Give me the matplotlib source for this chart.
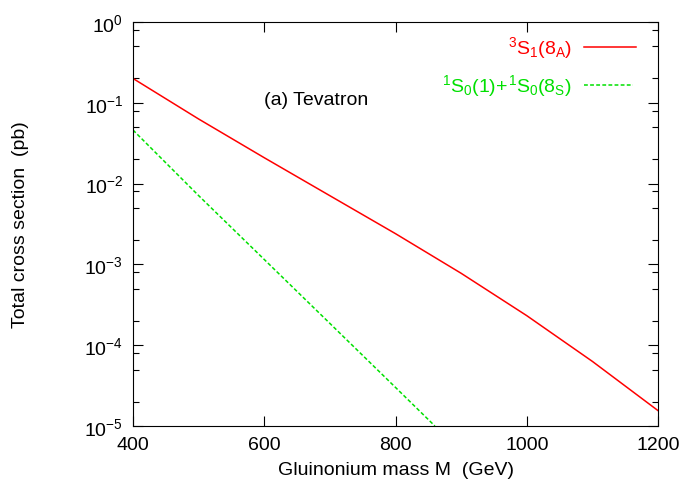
"""Gluinonium total cross section at the Tevatron."""
import matplotlib
matplotlib.use('Agg')
from matplotlib import pyplot as plt
from matplotlib.ticker import LogLocator, LogFormatterMathtext, NullFormatter, FixedLocator

# Values
mass_octet = [400, 500, 600, 700, 800, 900, 1000, 1100, 1200]
sigma_octet = [0.20, 0.063, 0.0209, 7.08e-3, 2.40e-3, 7.76e-4, 2.32e-4, 6.3e-5, 1.55e-5]

mass_singlet = [400, 500, 600, 700, 800, 860]
sigma_singlet = [0.046, 7.1e-3, 1.15e-3, 1.86e-4, 3.0e-5, 1.0e-5]

x_ticks = [400, 600, 800, 1000, 1200]

plt.rcParams['font.family'] = ['Liberation Sans', 'DejaVu Sans']
plt.rcParams['mathtext.fontset'] = 'custom'
plt.rcParams['mathtext.rm'] = 'Liberation Sans'
plt.rcParams['mathtext.it'] = 'Liberation Sans'
plt.rcParams['mathtext.bf'] = 'Liberation Sans'

red = '#ff0000'
green = '#00e000'

fig = plt.figure(figsize=(6.92, 4.85), dpi=100)
ax = fig.add_axes([0.1922, 0.1196, 0.7587, 0.8330])

ax.plot(mass_octet, sigma_octet, color=red, lw=1.1)
ax.plot(mass_singlet, sigma_singlet, color=green, lw=1.1, dashes=(2.5, 1.5))

ax.set_yscale('log')
ax.set_xlim(400, 1200)
ax.set_ylim(1e-5, 1)

ax.xaxis.set_major_locator(FixedLocator(x_ticks))
ax.yaxis.set_major_locator(LogLocator(base=10))
ax.yaxis.set_major_formatter(LogFormatterMathtext())
ax.yaxis.set_minor_locator(LogLocator(base=10, subs=(2, 5, 8)))
ax.yaxis.set_minor_formatter(NullFormatter())

ax.tick_params(axis='both', which='both', direction='in', top=True, right=True,
               labelsize=14, width=0.8)
ax.tick_params(axis='both', which='major', length=7, pad=7)
ax.tick_params(axis='both', which='minor', length=4)
for spine in ax.spines.values():
    spine.set_linewidth(0.8)

ax.set_xlabel('Gluinonium mass M  (GeV)', fontsize=14, labelpad=6)
ax.set_ylabel('Total cross section  (pb)', fontsize=14, labelpad=40)

ax.text(0.2495, 0.807, '(a) Tevatron', transform=ax.transAxes, fontsize=14,
        ha='left', va='center')

# Key, gnuplot style: label right-aligned, sample line to its right
ax.text(0.836, 0.938, r'$\mathregular{^3S_1(8_A)}$', transform=ax.transAxes,
        fontsize=14, color=red, ha='right', va='center')
ax.plot([0.859, 0.958], [0.938, 0.938], transform=ax.transAxes, color=red, lw=1.1)
ax.text(0.836, 0.843, r'$\mathregular{^1S_0(1)\!+\!^1S_0(8_S)}$', transform=ax.transAxes,
        fontsize=14, color=green, ha='right', va='center')
ax.plot([0.859, 0.952], [0.843, 0.843], transform=ax.transAxes, color=green,
        lw=1.1, dashes=(2.5, 1.5))

plt.savefig('out.png', dpi=100)
